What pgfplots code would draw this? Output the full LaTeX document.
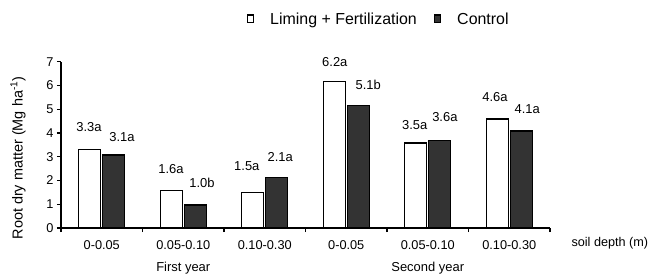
\documentclass[border=0pt]{standalone}
\usepackage{fontspec}
\setmainfont{Liberation Sans}
\usepackage{pgfplots}
\pgfplotsset{compat=1.18}
\definecolor{darkbar}{HTML}{333333}
\tikzset{lbl/.style={font=\fontsize{13}{15}\selectfont}}
\begin{document}
\begin{tikzpicture}
\useasboundingbox (0,0) rectangle (648bp,275bp);
\begin{axis}[
  at={(61bp,47bp)}, anchor=south west,
  scale only axis, width=489bp, height=166.25bp,
  xmin=-0.5, xmax=5.5, ymin=0, ymax=7,
  axis lines*=left,
  axis line style={line width=1.4bp, black},
  xtick={-0.5,0.5,1.5,2.5,3.5,4.5,5.5}, xticklabels={},
  extra x ticks={0,1,2,3,4,5},
  extra x tick labels={0-0.05,0.05-0.10,0.10-0.30,0-0.05,0.05-0.10,0.10-0.30},
  extra x tick style={major tick length=0pt},
  xticklabel style={yshift=-9bp},
  ytick={0,1,2,3,4,5,6,7},
  tick align=outside, major tick length=4bp,
  tick style={line width=1.2bp, black},
  tick label style={font=\fontsize{12.8}{14}\selectfont},
  /pgf/number format/assume math mode=true,
  clip=false,
  legend columns=2,
  legend style={draw=none, fill=none, inner sep=0pt, outer sep=0pt,
    at={(0.380,1.257)}, anchor=west,
    font=\fontsize{16}{18}\selectfont,
    nodes={inner sep=0pt},
    /tikz/every odd column/.append style={column sep=16bp},
    /tikz/every even column/.append style={column sep=17bp}},
  legend cell align=left,
]
\addplot[ybar, bar width=22bp, bar shift=-12bp, fill=white, draw=black, line width=1.3bp,
  legend image code/.code={\draw[line width=1.4bp, draw=black, fill=white] (0bp,-3.5bp) rectangle (6bp,4bp);}]
  coordinates {(0,3.31) (1,1.57) (2,1.48) (3,6.16) (4,3.58) (5,4.59)};
\addlegendentry{Liming + Fertilization}
\addplot[ybar, bar width=22bp, bar shift=12bp, fill=darkbar, draw=black, line width=1.3bp,
  legend image code/.code={\draw[line width=1.4bp, draw=black, fill=darkbar] (0bp,-3.5bp) rectangle (6bp,4bp);}]
  coordinates {(0,3.07) (1,0.97) (2,2.14) (3,5.17) (4,3.67) (5,4.08)};
\addlegendentry{Control}

\node[lbl] at (axis cs:-0.156,4.25) {3.3a};
\node[lbl] at (axis cs:0.248,3.83) {3.1a};
\node[lbl] at (axis cs:0.85,2.48) {1.6a};
\node[lbl] at (axis cs:1.23,1.89) {1.0b};
\node[lbl] at (axis cs:1.78,2.6) {1.5a};
\node[lbl] at (axis cs:2.19,2.98) {2.1a};
\node[lbl] at (axis cs:2.86,6.99) {6.2a};
\node[lbl] at (axis cs:3.27,6.02) {5.1b};
\node[lbl] at (axis cs:3.84,4.34) {3.5a};
\node[lbl] at (axis cs:4.21,4.67) {3.6a};
\node[lbl] at (axis cs:4.825,5.52) {4.6a};
\node[lbl] at (axis cs:5.22,5.0) {4.1a};

\node[font=\fontsize{13}{15}\selectfont, yshift=-40bp] at (axis cs:1,0) {First year};
\node[font=\fontsize{13}{15}\selectfont, yshift=-40bp] at (axis cs:4,0) {Second year};
\node[anchor=west, font=\fontsize{12.7}{14}\selectfont, xshift=18bp, yshift=-15bp] at (axis cs:5.5,0) {soil depth (m)};
\node[rotate=90, font=\fontsize{14.5}{16}\selectfont] at ([xshift=-43bp]rel axis cs:0,0.421) {Root dry matter (Mg ha\textsuperscript{-1})};
\end{axis}
\end{tikzpicture}
\end{document}
